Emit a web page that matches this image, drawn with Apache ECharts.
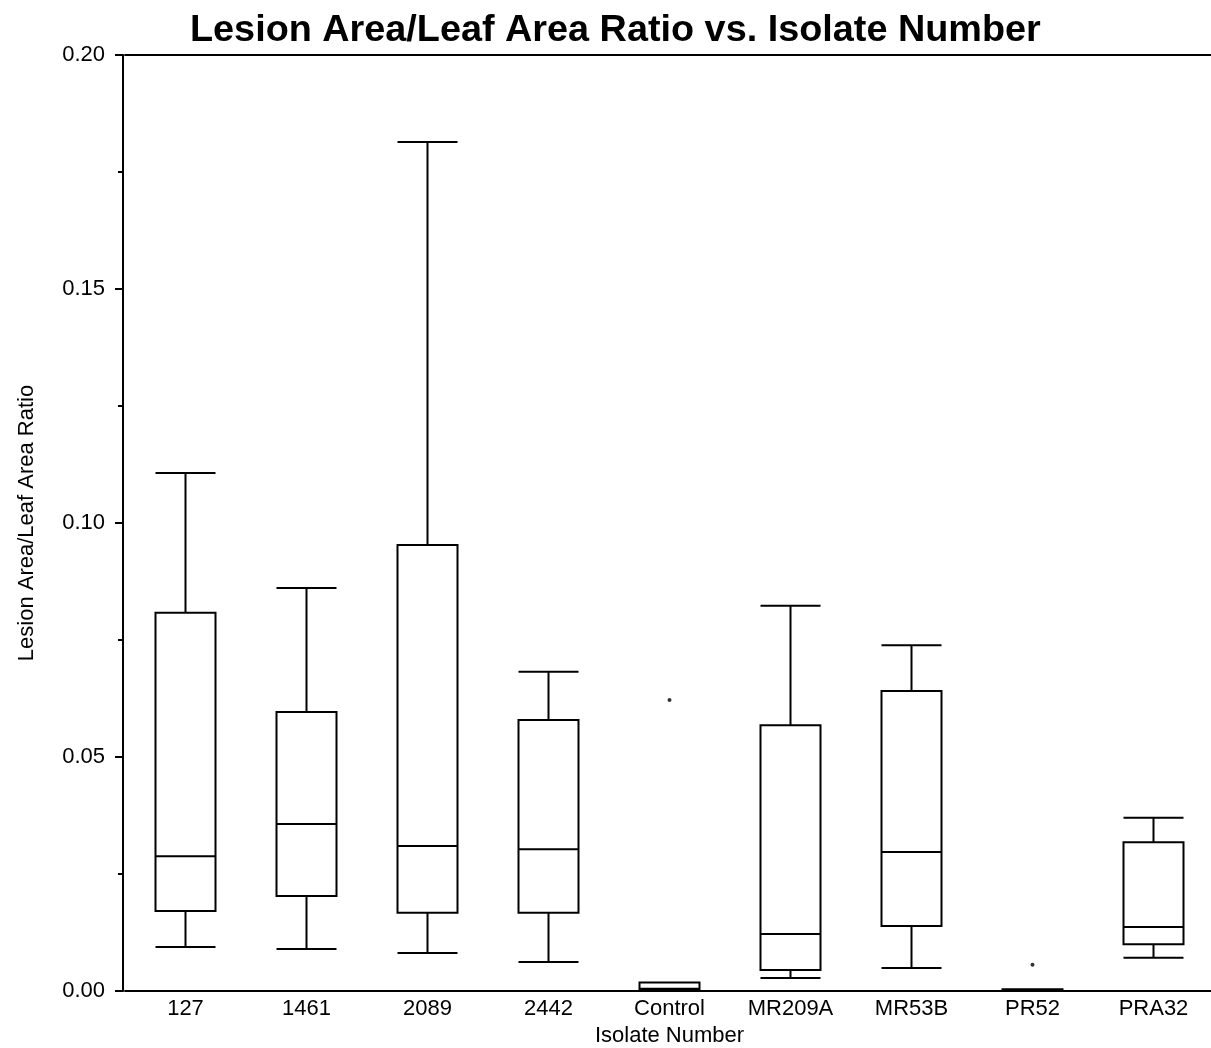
<!DOCTYPE html>
<html>
<head>
<meta charset="utf-8">
<script src="https://cdn.jsdelivr.net/npm/echarts@6/dist/echarts.min.js"></script>
<style>html,body{margin:0;padding:0;background:#fff;}#c{width:1211px;height:1048px;}</style>
</head>
<body>
<div id="c"></div>
<script>
const categories = ['127','1461','2089','2442','Control','MR209A','MR53B','PR52','PRA32'];
// [lower whisker, Q1, median, Q3, upper whisker]
const boxLow    = [0.0094, 0.0090, 0.0081, 0.0062, 0.0000, 0.0028, 0.0049, 0.0000, 0.0071];
const boxQ1     = [0.0171, 0.0203, 0.0167, 0.0167, 0.0002, 0.0045, 0.0139, 0.0001, 0.0100];
const boxMedian = [0.0288, 0.0357, 0.0310, 0.0303, 0.0005, 0.0122, 0.0297, 0.0002, 0.0137];
const boxQ3     = [0.0808, 0.0596, 0.0953, 0.0579, 0.0018, 0.0568, 0.0641, 0.0004, 0.0318];
const boxHigh   = [0.1107, 0.0861, 0.1814, 0.0682, 0.0018, 0.0823, 0.0739, 0.0004, 0.0370];
const outlierCats = ['Control', 'PR52'];
const outlierVals = [0.0622, 0.0056];
const yTicks = [0, 0.05, 0.10, 0.15, 0.20];

const boxData = categories.map((c, i) => [boxLow[i], boxQ1[i], boxMedian[i], boxQ3[i], boxHigh[i]]);
const outData = outlierCats.map((c, i) => [c, outlierVals[i]]);

const chart = echarts.init(document.getElementById('c'));
const font = 'Liberation Sans, Arial, Helvetica, sans-serif';
chart.setOption({
  animation: false,
  backgroundColor: '#fff',
  title: {
    text: 'Lesion Area/Leaf Area Ratio vs. Isolate Number',
    left: 185, top: 7,
    textStyle: { fontFamily: font, fontSize: 37.8, fontWeight: 'bold', color: '#000' }
  },
  grid: { left: 125, right: -3, top: 55, bottom: 57, containLabel: false, outerBoundsMode: 'none' },
  xAxis: [{
    type: 'category',
    data: categories,
    name: 'Isolate Number',
    nameLocation: 'middle',
    nameGap: 33,
    nameTextStyle: { fontFamily: font, fontSize: 22, color: '#000' },
    axisLine: { lineStyle: { color: '#000', width: 2 } },
    axisTick: { show: false },
    axisLabel: { fontFamily: font, fontSize: 22, color: '#000', margin: 7 },
    splitLine: { show: false }
  }, {
    type: 'category',
    data: categories,
    position: 'top',
    axisLine: { lineStyle: { color: '#000', width: 2 } },
    axisTick: { show: false },
    axisLabel: { show: false },
    splitLine: { show: false }
  }],
  yAxis: {
    type: 'value',
    offset: 2,
    min: yTicks[0], max: yTicks[yTicks.length - 1], interval: 0.05,
    name: 'Lesion Area/Leaf Area Ratio',
    nameLocation: 'middle',
    nameGap: 85,
    nameTextStyle: { fontFamily: font, fontSize: 22, color: '#000' },
    axisLine: { show: true, lineStyle: { color: '#000', width: 2 } },
    axisTick: { show: true, length: 8, lineStyle: { color: '#000', width: 2 } },
    minorTick: { show: true, splitNumber: 2, length: 5, lineStyle: { color: '#000', width: 2 } },
    axisLabel: { fontFamily: font, fontSize: 22, color: '#000', margin: 18,
      formatter: v => v.toFixed(2) },
    splitLine: { show: false }
  },
  series: [{
    type: 'boxplot',
    data: boxData,
    boxWidth: [60, 60],
    itemStyle: { color: '#fff', borderColor: '#000', borderWidth: 2 },
    emphasis: { disabled: true }
  }, {
    type: 'scatter',
    data: outData,
    symbol: 'circle',
    symbolSize: 4,
    itemStyle: { color: '#000' }
  }]
});
</script>
</body>
</html>
